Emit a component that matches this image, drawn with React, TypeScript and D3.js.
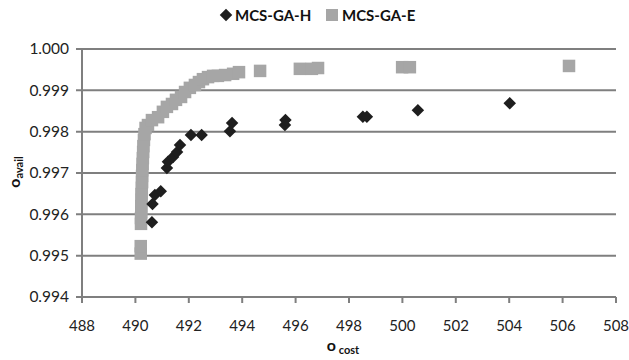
import React, { useRef, useEffect } from 'react';
import * as d3 from 'd3';

// MCS-GA-H (black diamonds)
const hCost = [490.62, 490.64, 490.73, 490.95, 491.18, 491.22, 491.41, 491.56, 491.67, 492.08, 492.48, 493.54, 493.62, 495.6, 495.62, 498.52, 498.67, 500.58, 504.02];
const hAvail = [0.99581, 0.99625, 0.99647, 0.99656, 0.99712, 0.99727, 0.99739, 0.99751, 0.99768, 0.99792, 0.99792, 0.99801, 0.99821, 0.99816, 0.99828, 0.99836, 0.99836, 0.99852, 0.99869];

// MCS-GA-E (grey squares)
const eCost = [490.2, 490.2, 490.21, 490.21, 490.22, 490.22, 490.23, 490.23, 490.24, 490.25, 490.25, 490.26, 490.27, 490.28, 490.29, 490.3, 490.32, 490.34, 490.38, 490.47, 490.62, 490.85, 491.03, 491.18, 491.37, 491.52, 491.71, 491.86, 492.04, 492.23, 492.38, 492.53, 492.72, 492.91, 493.09, 493.36, 493.66, 493.88, 494.67, 496.16, 496.61, 496.84, 499.99, 500.28, 506.24];
const eAvail = [0.99505, 0.99523, 0.99577, 0.99591, 0.99606, 0.9962, 0.99635, 0.99649, 0.99664, 0.99678, 0.99693, 0.99707, 0.99722, 0.99736, 0.99751, 0.99765, 0.9978, 0.99794, 0.99809, 0.99816, 0.99828, 0.99835, 0.99848, 0.9986, 0.99867, 0.99877, 0.99884, 0.99896, 0.99906, 0.99913, 0.9992, 0.99927, 0.99932, 0.99935, 0.99935, 0.99937, 0.9994, 0.99944, 0.99947, 0.99952, 0.99952, 0.99954, 0.99956, 0.99956, 0.99959];

const xTicks = [488, 490, 492, 494, 496, 498, 500, 502, 504, 506, 508];
const yTicks = [0.994, 0.995, 0.996, 0.997, 0.998, 0.999, 1.0];
const seriesNames = ['MCS-GA-H', 'MCS-GA-E'];

const W = 629;
const H = 360;
const FONT = 'Lato, "Open Sans", sans-serif';

const App = () => {
  const svgRef = useRef<SVGSVGElement>(null);

  useEffect(() => {
    const svg = d3.select(svgRef.current);
    svg.selectAll('*').remove();

    const x = d3.scaleLinear().domain([488, 508]).range([82, 616]);
    const y = d3.scaleLinear().domain([0.994, 1.0]).range([297, 49]);
    const gridColor = '#7f7f7f';
    const hColor = '#1e1e1e';
    const eColor = '#a6a6a6';

    // horizontal gridlines
    svg.append('g')
      .selectAll('line')
      .data(yTicks)
      .join('line')
      .attr('x1', x(488) - 6)
      .attr('x2', x(508))
      .attr('y1', d => y(d))
      .attr('y2', d => y(d))
      .attr('stroke', gridColor)
      .attr('stroke-width', 2);

    // y axis line
    svg.append('line')
      .attr('x1', x(488)).attr('x2', x(488))
      .attr('y1', y(1.0)).attr('y2', y(0.994))
      .attr('stroke', gridColor)
      .attr('stroke-width', 2);

    // x ticks
    svg.append('g')
      .selectAll('line')
      .data(xTicks)
      .join('line')
      .attr('x1', d => x(d))
      .attr('x2', d => x(d))
      .attr('y1', y(0.994))
      .attr('y2', y(0.994) + 6)
      .attr('stroke', gridColor)
      .attr('stroke-width', 2);

    // tick labels
    svg.append('g')
      .selectAll('text')
      .data(yTicks)
      .join('text')
      .attr('x', x(488) - 13)
      .attr('y', d => y(d))
      .attr('dy', '0.35em')
      .attr('text-anchor', 'end')
      .attr('font-family', FONT)
      .attr('font-size', 15.5)
      .attr('fill', '#222')
      .text(d => d3.format('.3f')(d));

    svg.append('g')
      .selectAll('text')
      .data(xTicks)
      .join('text')
      .attr('x', d => x(d))
      .attr('y', 331)
      .attr('text-anchor', 'middle')
      .attr('font-family', FONT)
      .attr('font-size', 15)
      .attr('fill', '#222')
      .text(d => d);

    // axis titles
    const xt = svg.append('text')
      .attr('x', 343)
      .attr('y', 351)
      .attr('text-anchor', 'middle')
      .attr('font-family', FONT)
      .attr('fill', '#111');
    xt.append('tspan').attr('font-size', 16).attr('font-weight', 'bold').text('o');
    xt.append('tspan').attr('font-size', 11).attr('font-weight', 'bold').attr('dy', 3).text(' cost');

    const yt = svg.append('text')
      .attr('transform', 'translate(20,172) rotate(-90)')
      .attr('text-anchor', 'middle')
      .attr('font-family', FONT)
      .attr('fill', '#111');
    yt.append('tspan').attr('font-size', 16).attr('font-weight', 'bold').text('o');
    yt.append('tspan').attr('font-size', 11).attr('font-weight', 'bold').attr('dy', 3).text('avail');

    const eData = eCost.map((c, i) => [c, eAvail[i]]);
    const hData = hCost.map((c, i) => [c, hAvail[i]]);
    const sq = 12.5;
    const diamond = d3.symbol().type(d3.symbolDiamond2).size(100);

    // grey squares
    svg.append('g')
      .selectAll('rect')
      .data(eData)
      .join('rect')
      .attr('x', d => x(d[0]) - sq / 2)
      .attr('y', d => y(d[1]) - sq / 2)
      .attr('width', sq)
      .attr('height', sq)
      .attr('fill', eColor);

    // black diamonds
    svg.append('g')
      .selectAll('path')
      .data(hData)
      .join('path')
      .attr('transform', d => `translate(${x(d[0])},${y(d[1])})`)
      .attr('d', diamond)
      .attr('fill', hColor);

    // legend
    const lg = svg.append('g').attr('font-family', FONT).attr('font-weight', 'bold').attr('font-size', 15).attr('fill', '#111');
    lg.append('path').attr('transform', 'translate(226,15)').attr('d', diamond).attr('fill', hColor);
    lg.append('text').attr('x', 235).attr('y', 20.5).text(seriesNames[0]);
    lg.append('rect').attr('x', 326).attr('y', 9).attr('width', 12).attr('height', 12).attr('fill', eColor);
    lg.append('text').attr('x', 342).attr('y', 20.5).text(seriesNames[1]);
  }, []);

  return (
    <svg
      ref={svgRef}
      width={W}
      height={H}
      style={{ position: 'absolute', left: 0, top: 0, background: '#fff' }}
    />
  );
};

export default App;
